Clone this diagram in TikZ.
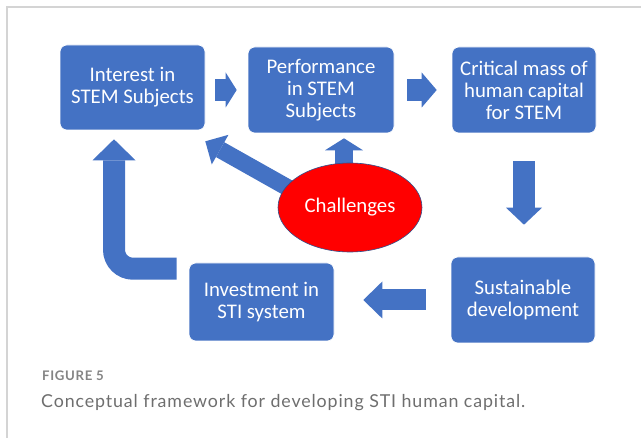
\documentclass[tikz,border=0pt]{standalone}
\usepackage{fontspec}
\setmainfont{Carlito}
\newfontfamily\capfont[LetterSpace=5]{Lato}
\usetikzlibrary{shapes.geometric,arrows.meta}
\definecolor{boxblue}{HTML}{4472C4}
\definecolor{edgeblue}{HTML}{2F528F}
\definecolor{framegray}{HTML}{D4D4D4}
\definecolor{capgray}{HTML}{6E6E6E}
\pgfdeclarelayer{edgelayer}
\pgfdeclarelayer{nodelayer}
\pgfsetlayers{edgelayer,nodelayer,main}
\tikzstyle{stage}=[rectangle,rounded corners=7pt,fill=boxblue,draw=white,line width=0.6pt,text=white,align=center,font=\fontsize{20.8}{22}\selectfont,inner sep=0pt]
\tikzstyle{barrier}=[ellipse,fill=red,draw=edgeblue,line width=0.6pt,text=white,font=\fontsize{20.8}{22}\selectfont,inner sep=0pt]
\tikzstyle{blockarrow}=[draw=boxblue,line width=22pt]
\tikzstyle{figlabel}=[inner sep=0pt,text=capgray!85,font=\capfont\bfseries\fontsize{13.2}{15}\selectfont]
\tikzstyle{figcaption}=[inner sep=0pt,text=capgray,font=\capfont\fontsize{17.8}{20}\selectfont]

\begin{document}
\begin{tikzpicture}[x=1pt,y=-1pt]
	\useasboundingbox (0, 0) rectangle (641, 438);
	\begin{pgfonlayer}{nodelayer}
		\node [style=stage, minimum width=145pt, minimum height=85pt] (0) at (132.5, 87.5) {Interest in\\STEM Subjects};
		\node [style=stage, minimum width=146pt, minimum height=86pt] (1) at (321, 90) {Performance\\in STEM\\Subjects};
		\node [style=stage, minimum width=144pt, minimum height=86pt] (2) at (524, 90) {Critical mass of\\human capital\\for STEM};
		\node [style=stage, minimum width=144pt, minimum height=86pt] (3) at (523, 300) {Sustainable\\development};
		\node [style=stage, minimum width=145pt, minimum height=78pt] (4) at (261.5, 302) {Investment in\\STI system};
		\node [style=barrier, minimum width=144pt, minimum height=89pt] (5) at (350, 207.5) {Challenges};
		\coordinate (6) at ([xshift=-6pt]5.north);
		\coordinate (7) at ([xshift=-12pt, yshift=-6pt]4.north west);
		\coordinate (8) at ([xshift=-18.5pt, yshift=-9pt]0.south);
		\node [style=figlabel, anchor=base west] (9) at (42, 381) {FIGURE 5};
		\node [style=figcaption, anchor=base west] (10) at (41, 408) {Conceptual framework for developing STI human capital.};
	\end{pgfonlayer}
	\begin{pgfonlayer}{edgelayer}
		\draw [style=blockarrow, -{Triangle[width=35pt, length=11pt, line width=0pt]}, shorten <=10pt, shorten >=11pt] (0.east |- 1.west) to (1.west);
		\draw [style=blockarrow, -{Triangle[width=35pt, length=15pt, line width=0pt]}, shorten <=13pt, shorten >=15pt] (1.east) to (2.west);
		\draw [style=blockarrow, -{Triangle[width=36pt, length=17pt, line width=0pt]}, shorten <=28pt, shorten >=32pt] (2.south) to (2.south |- 3.north);
		\draw [style=blockarrow, line width=21pt, -{Triangle[width=37pt, length=19pt, line width=0pt]}, shorten <=25pt, shorten >=29pt] (3.west) to (3.west -| 4.east);
		\draw [style=blockarrow, rounded corners=19pt, -{Triangle[width=43pt, length=21pt, line width=0pt]}] (7) -| (8);
		\draw [style=blockarrow, line width=17pt, -{Triangle[width=34pt, length=17pt, line width=0pt]}, shorten <=-6pt] (5.162) to ([yshift=-11pt]0.south east);
		\draw [style=blockarrow, line width=18pt, -{Triangle[width=38pt, length=12pt, line width=0pt]}, shorten <=-3pt, shorten >=5pt] (6) to (6 |- 1.south);
	\end{pgfonlayer}
	% frame of the figure panel
	\draw [framegray, line width=1.2pt] (7, 438) -- (7, 7) -- (641, 7);
\end{tikzpicture}
\end{document}
